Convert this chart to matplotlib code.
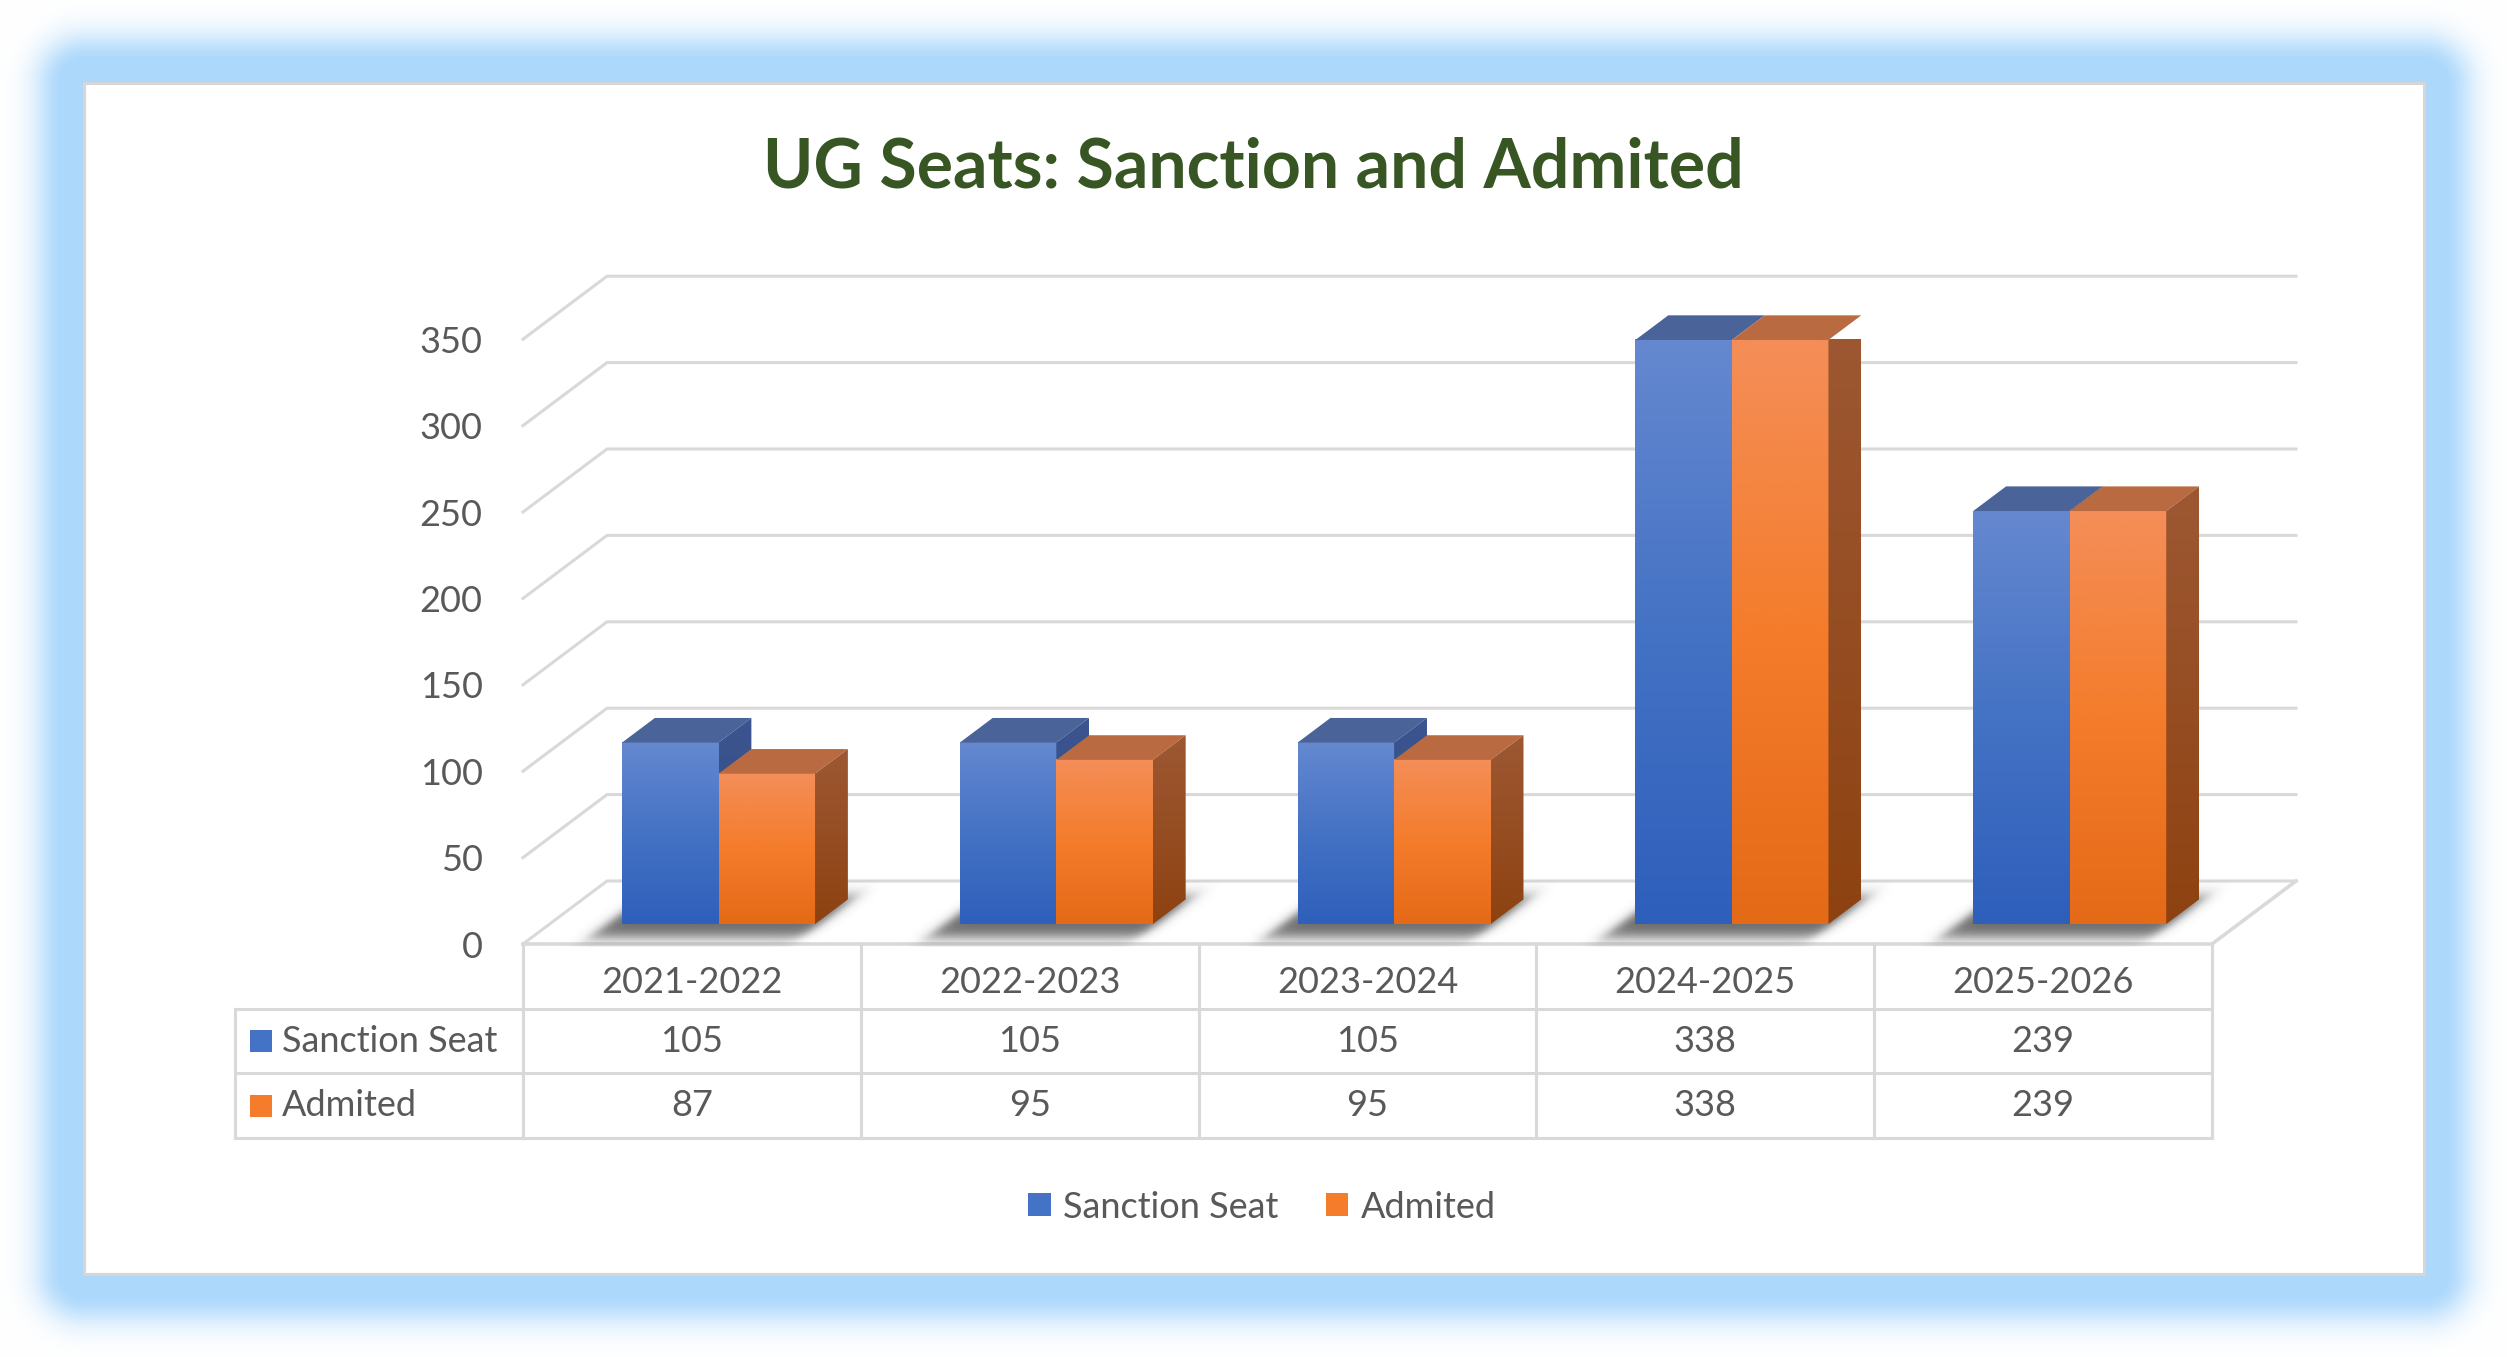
"""
UG seats chart: sanctioned vs admitted, drawn as a 3D-looking clustered
column chart with a data table underneath (Excel style).
"""

import numpy as np
import matplotlib
matplotlib.use("Agg")
import matplotlib.pyplot as plt
from matplotlib.patches import Polygon, Rectangle, Patch
from matplotlib.colors import LinearSegmentedColormap

# data
years = ["2021-2022", "2022-2023", "2023-2024", "2024-2025", "2025-2026"]
sanction_seat = [105, 105, 105, 338, 239]
admited = [87, 95, 95, 338, 239]
series_names = ["Sanction Seat", "Admited"]
y_ticks = [0, 50, 100, 150, 200, 250, 300, 350]
title = "UG Seats: Sanction and Admited"

# figure geometry (pixels, origin top-left)
W, H, DPI = 2507, 1357, 100
PANEL = (84, 83, 2424, 1274)
FRONT_L, FRONT_R, BASE = 523, 2212, 944
PX_UNIT = 1.728
DEPTH_PX = (84, 63)
TABLE_L, TABLE_B = 235, 1138

FONT = ["Lato", "DejaVu Sans"]
FS = 26
TXT = "#595959"
GRID = "#d9d9d9"

BLUE_FRONT = ["#6588d0", "#4472c4", "#2e5fbb"]
BLUE_TOP = "#4a6398"
BLUE_SIDE = ["#3c5590", "#2f4a80"]
ORANGE_FRONT = ["#f48e58", "#f47c2b", "#e56a18"]
ORANGE_TOP = "#b96a40"
ORANGE_SIDE = ["#9d5833", "#8e4211"]

n = len(years)
slot_px = (FRONT_R - FRONT_L) / n
DX = DEPTH_PX[0] / slot_px
DY = DEPTH_PX[1] / PX_UNIT
D0, D1 = 0.317, 0.708
BAR_W = 1 / 3.5


def vgrad(colors, steps=128):
    cmap = LinearSegmentedColormap.from_list("g", colors)
    return cmap(np.linspace(0, 1, steps))[:, None, :3]


def soft_box(t, a, b, s):
    return 0.5 * (np.tanh((t - a) / s) - np.tanh((t - b) / s))


fig = plt.figure(figsize=(W / DPI, H / DPI), dpi=DPI)

# background with the blue glow round the white panel
bg = fig.add_axes([0, 0, 1, 1])
bg.set_axis_off()
yy, xx = np.mgrid[0:H, 0:W] + 0.5
ddx = np.maximum(np.maximum(PANEL[0] - xx, xx - PANEL[2]), 0)
ddy = np.maximum(np.maximum(PANEL[1] - yy, yy - PANEL[3]), 0)
dist = np.hypot(ddx, ddy)
f = np.exp(-(np.maximum(dist - 20, 0) / 30) ** 2)
glow = np.array([172, 216, 252]) / 255
img = 1 - (1 - glow) * f[..., None]
inside = (ddx == 0) & (ddy == 0)
img[inside] = 1
bg.imshow(img, extent=(0, W, H, 0), aspect="auto", interpolation="nearest")
bg.add_patch(Rectangle((PANEL[0], PANEL[1]), PANEL[2] - PANEL[0], PANEL[3] - PANEL[1],
                       fill=False, ec="#d6d6d6", lw=2.2))
bg.set_xlim(0, W)
bg.set_ylim(H, 0)

fig.text(0.5, 1 - 168 / H, title, ha="center", va="center", fontsize=49,
         fontweight="bold", color="#375623", family=FONT)

# main chart axes = front plane of the 3D box
ax = fig.add_axes([FRONT_L / W, (H - BASE) / H, (FRONT_R - FRONT_L) / W,
                   350 * PX_UNIT / H])
ax.patch.set_alpha(0)
for s in ax.spines.values():
    s.set_visible(False)
ax.set_xticks([])
ax.set_yticks(y_ticks)
ax.set_yticklabels([str(v) for v in y_ticks], family=FONT)
ax.tick_params(axis="y", length=0, pad=29, labelsize=FS, labelcolor=TXT)

# walls and floor gridlines
for v in y_ticks:
    ax.plot([0, DX, n + DX], [v, v + DY, v + DY], color=GRID, lw=2.2,
            clip_on=False, zorder=1, solid_joinstyle="miter")
ax.plot([0, n, n + DX], [0, 0, DY], color=GRID, lw=2.6, clip_on=False, zorder=1)

# soft shadows on the floor: bar footprints shifted down and blurred
bottom = D0 * DY
bdx, bdy = (D1 - D0) * DX, (D1 - D0) * DY
slant = DEPTH_PX[0] / DEPTH_PX[1]
sx = np.linspace(-0.1, n + DX, 1900)
sy = np.linspace(-2, DY, 110)
SX, SY = np.meshgrid(sx, sy)
up_px = (SY - bottom) * PX_UNIT
alpha = np.zeros_like(SX)
for i in range(n):
    left = i + 0.5 - BAR_W + D0 * DX
    u_px = (SX - left) * slot_px - up_px * slant
    alpha += 0.75 * soft_box(u_px, -14, 2 * BAR_W * slot_px + 6, 9) \
        * soft_box(up_px, -14, bdy * PX_UNIT + 2, 8)
shadow = np.zeros(SX.shape + (4,))
shadow[..., :3] = 0.22
shadow[..., 3] = np.clip(alpha, 0, 1)
ax.imshow(shadow, extent=(sx[0], sx[-1], sy[0], sy[-1]), origin="lower", aspect="auto",
          clip_on=False, zorder=2, interpolation="bilinear")


def draw_bar(x0, value, front, top_col, side, z):
    xl = x0 + D0 * DX
    y0 = bottom
    y1 = bottom + value
    ax.imshow(vgrad(front), extent=(xl, xl + BAR_W, y0, y1), aspect="auto",
              clip_on=False, zorder=z, interpolation="bilinear")
    ax.add_patch(Polygon([(xl, y1), (xl + BAR_W, y1), (xl + BAR_W + bdx, y1 + bdy),
                          (xl + bdx, y1 + bdy)], closed=True, fc=top_col, ec="none",
                         zorder=z, clip_on=False))
    side_poly = Polygon([(xl + BAR_W, y0), (xl + BAR_W + bdx, y0 + bdy),
                         (xl + BAR_W + bdx, y1 + bdy), (xl + BAR_W, y1)], closed=True,
                        fc="none", ec="none", transform=ax.transData)
    im = ax.imshow(vgrad(side), extent=(xl + BAR_W, xl + BAR_W + bdx, y0, y1 + bdy),
                   aspect="auto", zorder=z, interpolation="bilinear")
    im.set_clip_path(side_poly)


for i in range(n):
    draw_bar(i + 0.5 - BAR_W, sanction_seat[i], BLUE_FRONT, BLUE_TOP, BLUE_SIDE, 3 + 2 * i)
    draw_bar(i + 0.5, admited[i], ORANGE_FRONT, ORANGE_TOP, ORANGE_SIDE, 4 + 2 * i)

ax.set_xlim(0, n)
ax.set_ylim(0, 350)

# data table
label_w = (FRONT_L - TABLE_L) / slot_px
tx = fig.add_axes([TABLE_L / W, (H - TABLE_B) / H, (FRONT_R - TABLE_L) / W,
                   (TABLE_B - BASE) / H])
tx.set_axis_off()
tx.set_xlim(-label_w, n)
tx.set_ylim(3, 0)
row_px = (TABLE_B - BASE) / 3
for r in (1, 2, 3):
    tx.plot([-label_w, n], [r, r], color=GRID, lw=2.2, clip_on=False)
for c in range(n + 1):
    tx.plot([c, c], [0, 3], color=GRID, lw=2.2, clip_on=False)
tx.plot([-label_w, -label_w], [1, 3], color=GRID, lw=2.2, clip_on=False)

for i, yr in enumerate(years):
    tx.text(i + 0.5, 0.6, yr, ha="center", va="center", fontsize=FS, color=TXT, family=FONT)
    tx.text(i + 0.5, 1.5, str(sanction_seat[i]), ha="center", va="center",
            fontsize=FS, color=TXT, family=FONT)
    tx.text(i + 0.5, 2.5, str(admited[i]), ha="center", va="center",
            fontsize=FS, color=TXT, family=FONT)

sq_w = 22 / slot_px
sq_h = 22 / row_px
for r, (name, col) in enumerate(zip(series_names, [BLUE_FRONT[1], ORANGE_FRONT[1]])):
    yc = 1.5 + r
    tx.add_patch(Rectangle((-label_w + 15 / slot_px, yc - sq_h / 2), sq_w, sq_h,
                           fc=col, ec="none", clip_on=False))
    tx.text(-label_w + 47 / slot_px, yc, name, ha="left", va="center",
            fontsize=FS, color=TXT, family=FONT)

# legend
handles = [Patch(fc=BLUE_FRONT[1], ec="none"), Patch(fc=ORANGE_FRONT[1], ec="none")]
fig.legend(handles, series_names, loc="center", bbox_to_anchor=(1262 / W, 1 - 1207 / H),
           ncol=2, frameon=False, prop={"family": FONT, "size": FS}, labelcolor=TXT,
           handlelength=0.62, handleheight=0.62, handletextpad=0.35, columnspacing=1.3)

fig.savefig("out.png", dpi=DPI)
